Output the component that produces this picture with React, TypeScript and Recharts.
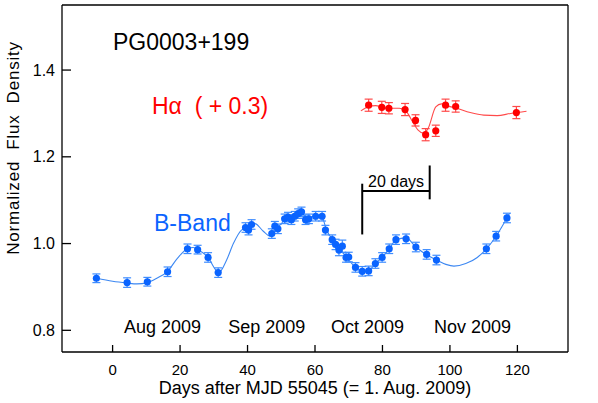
import React from 'react';
import {
  ComposedChart,
  ErrorBar,
  Line,
  ReferenceLine,
  Scatter,
  XAxis,
  YAxis,
} from 'recharts';

// B-band photometry (days after MJD 55045, normalized flux, 1-sigma error)
const bDays = [
  -4.8, 4.3, 10.3, 16.3, 22.2, 25.2, 28.3, 31.3, 39.4, 40.3, 41.2, 47.2, 48.1,
  49.0, 51.0, 52.0, 53.0, 54.0, 55.0, 56.0, 57.2, 58.2, 60.2, 62.1, 63.1, 65.1,
  66.1, 67.1, 68.1, 69.2, 70.0, 72.0, 74.0, 75.9, 77.9, 79.9, 82.0, 84.0, 87.0,
  89.9, 93.1, 96.0, 110.8, 113.7, 116.9,
];
const bFlux = [
  0.92, 0.91, 0.912, 0.935, 0.988, 0.986, 0.968, 0.933, 1.037, 1.031, 1.044,
  1.023, 1.04, 1.034, 1.057, 1.061, 1.055, 1.063, 1.069, 1.073, 1.055, 1.057,
  1.063, 1.063, 1.031, 1.009, 0.998, 0.985, 0.994, 0.968, 0.969, 0.945, 0.936,
  0.937, 0.954, 0.968, 0.988, 1.009, 1.011, 0.992, 0.975, 0.962, 0.988, 1.017,
  1.059,
];
const bErr = [
  0.01, 0.011, 0.01, 0.011, 0.011, 0.01, 0.011, 0.011, 0.011, 0.011, 0.011,
  0.011, 0.011, 0.011, 0.011, 0.011, 0.011, 0.011, 0.011, 0.011, 0.011, 0.011,
  0.011, 0.011, 0.011, 0.011, 0.012, 0.013, 0.014, 0.011, 0.011, 0.011, 0.011,
  0.011, 0.011, 0.011, 0.011, 0.011, 0.011, 0.011, 0.011, 0.011, 0.011, 0.011,
  0.011,
];

// fitted curve through the B-band points
const bFitDays = [
  -4.8, 0, 4.3, 7.2, 10.3, 13.1, 16.3, 19.2, 22.2, 23.9, 25.2, 28.3, 30.5, 31.5,
  33.8, 35.8, 38.2, 40.3, 42.2, 44.6, 46.8, 49, 51.5, 55.5, 58, 60.2, 62.1,
  63.4, 65.3, 67.3, 69.2, 72, 74, 76, 77.9, 79.9, 82, 84, 87, 89.9, 93.1, 96,
  98.8, 101.2, 104.7, 108.1, 110.8, 113.7, 116.9, 117.7,
];
const bFitFlux = [
  0.92, 0.913, 0.909, 0.907, 0.91, 0.92, 0.936, 0.966, 0.988, 0.991, 0.986,
  0.968, 0.94, 0.933, 0.962, 1.0, 1.031, 1.038, 1.046, 1.029, 1.017, 1.037,
  1.058, 1.071, 1.06, 1.064, 1.06, 1.032, 1.008, 0.989, 0.97, 0.945, 0.935,
  0.938, 0.954, 0.968, 0.988, 1.008, 1.013, 0.992, 0.974, 0.962, 0.952, 0.948,
  0.954, 0.968, 0.988, 1.017, 1.059, 1.07,
];

// H-alpha equivalent (offset +0.3)
const hDays = [75.9, 79.8, 81.9, 86.7, 89.8, 92.8, 95.8, 98.7, 101.7, 119.7];
const hFlux = [1.319, 1.314, 1.312, 1.309, 1.284, 1.251, 1.26, 1.319, 1.316, 1.302];
const hErr = [0.014, 0.014, 0.013, 0.014, 0.013, 0.014, 0.013, 0.014, 0.013, 0.014];

const hFitDays = [
  73.6, 76, 78, 80, 82, 85, 87, 89, 90.5, 92, 93.5, 95.8, 97.5, 99, 102, 106,
  110, 114, 118, 122.7,
];
const hFitFlux = [
  1.306, 1.316, 1.318, 1.314, 1.312, 1.312, 1.305, 1.28, 1.262, 1.255, 1.265,
  1.315, 1.322, 1.318, 1.312, 1.302, 1.296, 1.295, 1.3, 1.305,
];

// axes
const xDomain = [-15, 135];
const yDomain = [0.75, 1.55];
const xMajor = [0, 20, 40, 60, 80, 100, 120];
const xMinor = [
  -10, -5, 0, 5, 10, 15, 20, 25, 30, 35, 40, 45, 50, 55, 60, 65, 70, 75, 80,
  85, 90, 95, 100, 105, 110, 115, 120, 125, 130,
];
const yMajor = [0.8, 1.0, 1.2, 1.4];
const yMinor = [
  0.8, 0.85, 0.9, 0.95, 1.0, 1.05, 1.1, 1.15, 1.2, 1.25, 1.3, 1.35, 1.4, 1.45,
  1.5,
];

// "20 days" scale bar
const barStart = 74;
const barEnd = 94;
const barLevel = 1.121;
const barLeftLow = 1.021;
const barLeftHigh = 1.138;
const barRightLow = 1.102;
const barRightHigh = 1.18;

const months = ['Aug 2009', 'Sep 2009', 'Oct 2009', 'Nov 2009'];
const monthX = [162.5, 266.8, 367.5, 472.5];

const W = 598;
const H = 403;
const FONT = '"Liberation Sans", Arial, Helvetica, sans-serif';
const BLUE = '#0a64ff';
const BLUE_LIGHT = '#3f8dff';
const BLUE_LINE = '#3d88f2';
const RED = '#ff0000';
const RED_LIGHT = '#ff4a4a';

const bPoints = bDays.map((x, i) => ({ x, y: bFlux[i], err: bErr[i] }));
const bFit = bFitDays.map((x, i) => ({ x, y: bFitFlux[i] }));
const hPoints = hDays.map((x, i) => ({ x, y: hFlux[i], err: hErr[i] }));
const hFit = hFitDays.map((x, i) => ({ x, y: hFitFlux[i] }));

const dot = (color: string) => (p: any) => (
  <circle cx={p.cx} cy={p.cy} r={3.6} fill={color} />
);

const axisStroke = { stroke: '#000', strokeWidth: 1.3 };

export default function App() {
  return (
    <div
      style={{
        position: 'absolute',
        left: 0,
        top: 0,
        width: W,
        height: H,
        background: '#fff',
        fontFamily: FONT,
      }}
    >
      <ComposedChart
        width={W}
        height={H}
        margin={{ top: 3, right: 28, bottom: 49, left: 60 }}
      >
        {/* bottom: labelled majors, then minors */}
        <XAxis
          xAxisId="b"
          dataKey="x"
          type="number"
          domain={xDomain}
          allowDataOverflow
          ticks={xMajor}
          interval={0}
          height={1}
          tickSize={-7}
          tickMargin={19}
          axisLine={axisStroke}
          tickLine={axisStroke}
          tick={{ fontSize: 15, fill: '#000', fontFamily: FONT }}
        />
        <XAxis
          xAxisId="bm"
          dataKey="x"
          type="number"
          domain={xDomain}
          allowDataOverflow
          ticks={xMinor}
          interval={0}
          height={1}
          tickSize={-4}
          axisLine={false}
          tickLine={axisStroke}
          tick={false}
        />
        {/* top mirror */}
        <XAxis
          xAxisId="t"
          orientation="top"
          dataKey="x"
          type="number"
          domain={xDomain}
          allowDataOverflow
          ticks={xMajor}
          interval={0}
          height={1}
          tickSize={-7}
          axisLine={axisStroke}
          tickLine={axisStroke}
          tick={false}
        />
        <XAxis
          xAxisId="tm"
          orientation="top"
          dataKey="x"
          type="number"
          domain={xDomain}
          allowDataOverflow
          ticks={xMinor}
          interval={0}
          height={1}
          tickSize={-4}
          axisLine={false}
          tickLine={axisStroke}
          tick={false}
        />
        {/* left: labelled majors, then minors */}
        <YAxis
          yAxisId="l"
          type="number"
          domain={yDomain}
          allowDataOverflow
          ticks={yMajor}
          interval={0}
          width={1}
          tickSize={-9}
          tickMargin={16}
          axisLine={axisStroke}
          tickLine={axisStroke}
          tickFormatter={(v: number) => v.toFixed(1)}
          tick={{ fontSize: 16, fill: '#000', fontFamily: FONT }}
        />
        <YAxis
          yAxisId="lm"
          type="number"
          domain={yDomain}
          allowDataOverflow
          ticks={yMinor}
          interval={0}
          width={1}
          tickSize={-5}
          axisLine={false}
          tickLine={axisStroke}
          tick={false}
        />
        {/* right mirror */}
        <YAxis
          yAxisId="r"
          orientation="right"
          type="number"
          domain={yDomain}
          allowDataOverflow
          ticks={yMajor}
          interval={0}
          width={1}
          tickSize={-9}
          axisLine={axisStroke}
          tickLine={axisStroke}
          tick={false}
        />
        <YAxis
          yAxisId="rm"
          orientation="right"
          type="number"
          domain={yDomain}
          allowDataOverflow
          ticks={yMinor}
          interval={0}
          width={1}
          tickSize={-5}
          axisLine={false}
          tickLine={axisStroke}
          tick={false}
        />

        <ReferenceLine
          xAxisId="b"
          yAxisId="l"
          segment={[
            { x: barStart, y: barLeftLow },
            { x: barStart, y: barLeftHigh },
          ]}
          stroke="#000"
          strokeWidth={2}
        />
        <ReferenceLine
          xAxisId="b"
          yAxisId="l"
          segment={[
            { x: barStart, y: barLevel },
            { x: barEnd, y: barLevel },
          ]}
          stroke="#000"
          strokeWidth={2}
        />
        <ReferenceLine
          xAxisId="b"
          yAxisId="l"
          segment={[
            { x: barEnd, y: barRightLow },
            { x: barEnd, y: barRightHigh },
          ]}
          stroke="#000"
          strokeWidth={2}
        />

        <Line
          xAxisId="b"
          yAxisId="l"
          data={bFit}
          dataKey="y"
          type="monotone"
          stroke={BLUE_LINE}
          strokeWidth={1.1}
          dot={false}
          isAnimationActive={false}
        />
        <Line
          xAxisId="b"
          yAxisId="l"
          data={hFit}
          dataKey="y"
          type="monotone"
          stroke={RED_LIGHT}
          strokeWidth={1.1}
          dot={false}
          isAnimationActive={false}
        />
        <Scatter
          xAxisId="b"
          yAxisId="l"
          data={bPoints}
          dataKey="y"
          shape={dot(BLUE)}
          isAnimationActive={false}
        >
          <ErrorBar
            dataKey="err"
            direction="y"
            width={4}
            stroke={BLUE_LIGHT}
            strokeWidth={1.2}
          />
        </Scatter>
        <Scatter
          xAxisId="b"
          yAxisId="l"
          data={hPoints}
          dataKey="y"
          shape={dot(RED)}
          isAnimationActive={false}
        >
          <ErrorBar
            dataKey="err"
            direction="y"
            width={4}
            stroke={RED_LIGHT}
            strokeWidth={1.2}
          />
        </Scatter>
      </ComposedChart>

      <svg
        width={W}
        height={H}
        style={{ position: 'absolute', left: 0, top: 0, pointerEvents: 'none' }}
        fontFamily={FONT}
      >
        <text x={113} y={50} fontSize={23} fill="#000">
          PG0003+199
        </text>
        <text x={152} y={114} fontSize={23} fill={RED} style={{ whiteSpace: 'pre' }}>
          {'H\u03b1  ( + 0.3)'}
        </text>
        <text x={154} y={231} fontSize={23} fill={BLUE}>
          B-Band
        </text>
        <text x={368} y={187} fontSize={16} fill="#000">
          20 days
        </text>
        {months.map((m, i) => (
          <text
            key={m}
            x={monthX[i]}
            y={333}
            fontSize={18}
            fill="#000"
            textAnchor="middle"
          >
            {m}
          </text>
        ))}
        <text x={315} y={394} fontSize={18} fill="#000" textAnchor="middle">
          Days after MJD 55045 (= 1. Aug. 2009)
        </text>
        <text
          transform="translate(19,148) rotate(-90)"
          fontSize={17}
          fill="#000"
          textAnchor="middle"
          letterSpacing={0.8}
          style={{ whiteSpace: 'pre' }}
        >
          Normalized  Flux  Density
        </text>
      </svg>
    </div>
  );
}
